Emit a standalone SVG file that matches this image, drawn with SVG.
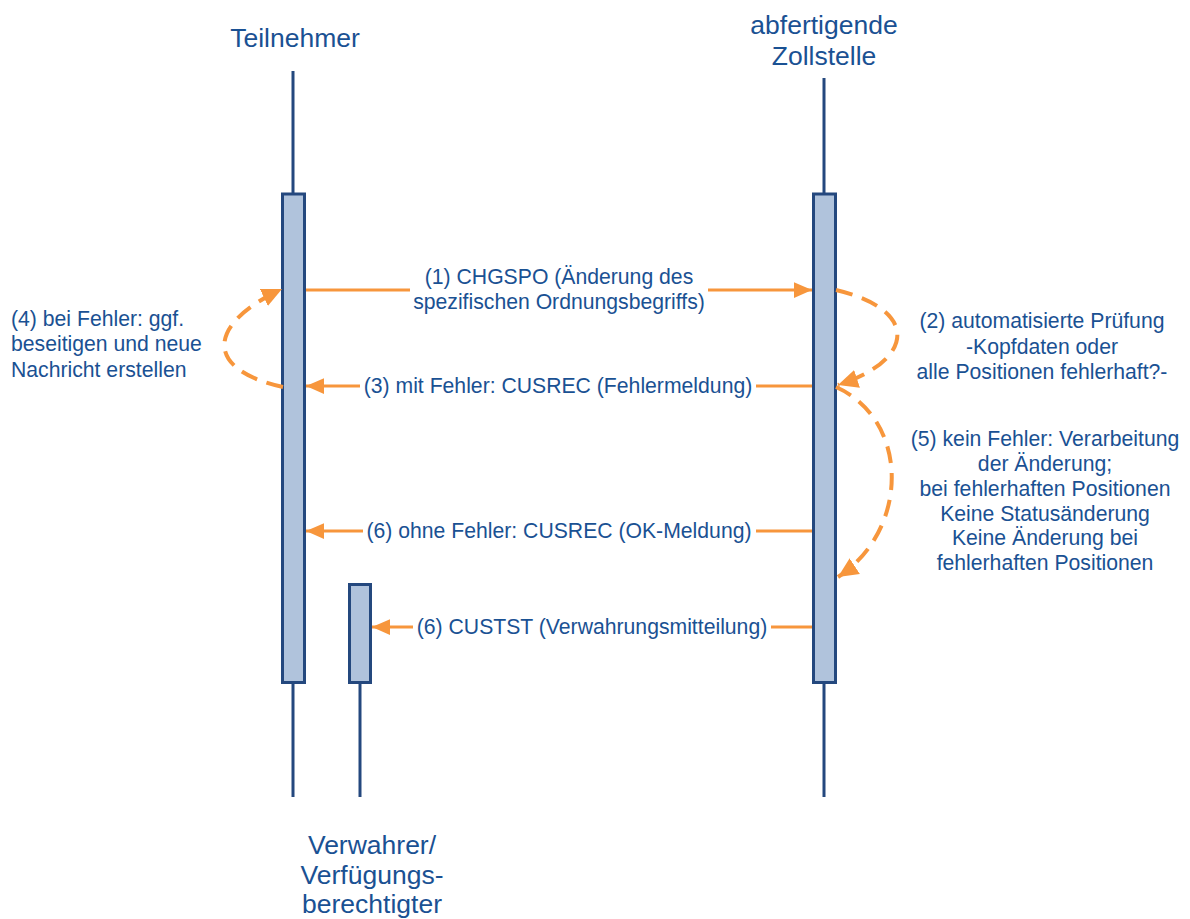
<svg xmlns="http://www.w3.org/2000/svg" width="1190" height="919" viewBox="0 0 1190 919">
<style>
  text { font-family: "Liberation Sans", Arial, sans-serif; fill: #1A5193; }
  .title { font-size: 26.5px; text-anchor: middle; }
  .lbl { font-size: 21.2px; text-anchor: middle; }
  .lft { font-size: 21.2px; text-anchor: start; }
  .life { stroke: #24487E; stroke-width: 3; fill: none; }
  .act { fill: #B0C3DC; stroke: #24487E; stroke-width: 3; }
  .msg { stroke: #F7963C; stroke-width: 3; fill: none; }
  .loop { stroke: #F7963C; stroke-width: 4; fill: none; stroke-dasharray: 17 10; }
</style>
<defs>
  <marker id="ah" markerUnits="userSpaceOnUse" markerWidth="18" markerHeight="18" viewBox="0 0 16 16" refX="16" refY="8" orient="auto">
    <path d="M0,1 L16,8 L0,15 Z" fill="#F7963C"/>
  </marker>
  <marker id="ahl" markerUnits="userSpaceOnUse" markerWidth="20" markerHeight="20" viewBox="0 0 16 16" refX="16" refY="8" orient="auto">
    <path d="M0,0.5 L16,8 L0,15.5 Z" fill="#F7963C"/>
  </marker>
</defs>
<rect width="1190" height="919" fill="#FFFFFF"/>

<g id="teilnehmer">
  <text class="title" x="295" y="47">Teilnehmer</text>
  <line class="life" x1="293" y1="71" x2="293" y2="797"/>
  <rect class="act" x="282.5" y="194" width="22" height="488.5"/>
</g>

<g id="zollstelle">
  <text class="title" x="824" y="34">abfertigende</text>
  <text class="title" x="824" y="65">Zollstelle</text>
  <line class="life" x1="824" y1="78" x2="824" y2="797"/>
  <rect class="act" x="813.5" y="194" width="22" height="488.5"/>
</g>

<g id="verwahrer">
  <line class="life" x1="360" y1="683" x2="360" y2="797"/>
  <rect class="act" x="349.5" y="584.5" width="21" height="98"/>
  <text class="title" x="372" y="854">Verwahrer/</text>
  <text class="title" x="372" y="884">Verfügungs-</text>
  <text class="title" x="372" y="913">berechtigter</text>
</g>

<g id="connectors">
  <line class="msg" x1="306" y1="290" x2="410" y2="290"/>
  <line class="msg" x1="708" y1="290" x2="812" y2="290" marker-end="url(#ah)"/>
  <line class="msg" x1="812" y1="386" x2="756" y2="386"/>
  <line class="msg" x1="360" y1="386" x2="306" y2="386" marker-end="url(#ah)"/>
  <line class="msg" x1="812" y1="531" x2="756" y2="531"/>
  <line class="msg" x1="363" y1="531" x2="306" y2="531" marker-end="url(#ah)"/>
  <line class="msg" x1="812" y1="627" x2="771" y2="627"/>
  <line class="msg" x1="413" y1="627" x2="372" y2="627" marker-end="url(#ah)"/>
  <path class="loop" d="M836,290 C920,310 915,360 838,385" marker-end="url(#ahl)"/>
  <path class="loop" d="M836,387 C910,420 910,530 838,577" marker-end="url(#ahl)"/>
  <path class="loop" d="M283,387 C205,370 205,325 282,289" marker-end="url(#ahl)"/>
</g>

<g id="labels">
  <text class="lbl" x="559" y="284">(1) CHGSPO (Änderung des</text>
  <text class="lbl" x="559" y="309">spezifischen Ordnungsbegriffs)</text>
  <text class="lbl" x="558" y="393">(3) mit Fehler: CUSREC (Fehlermeldung)</text>
  <text class="lbl" x="559" y="538">(6) ohne Fehler: CUSREC (OK-Meldung)</text>
  <text class="lbl" x="592" y="634">(6) CUSTST (Verwahrungsmitteilung)</text>
  <text class="lbl" x="1042" y="328">(2) automatisierte Prüfung</text>
  <text class="lbl" x="1042" y="354">-Kopfdaten oder</text>
  <text class="lbl" x="1042" y="379">alle Positionen fehlerhaft?-</text>
  <text class="lbl" x="1045" y="446">(5) kein Fehler: Verarbeitung</text>
  <text class="lbl" x="1045" y="471">der Änderung;</text>
  <text class="lbl" x="1045" y="496">bei fehlerhaften Positionen</text>
  <text class="lbl" x="1045" y="521">Keine Statusänderung</text>
  <text class="lbl" x="1045" y="545">Keine Änderung bei</text>
  <text class="lbl" x="1045" y="570">fehlerhaften Positionen</text>
  <text class="lft" x="11" y="326">(4) bei Fehler: ggf.</text>
  <text class="lft" x="11" y="351">beseitigen und neue</text>
  <text class="lft" x="11" y="377">Nachricht erstellen</text>
</g>
</svg>
